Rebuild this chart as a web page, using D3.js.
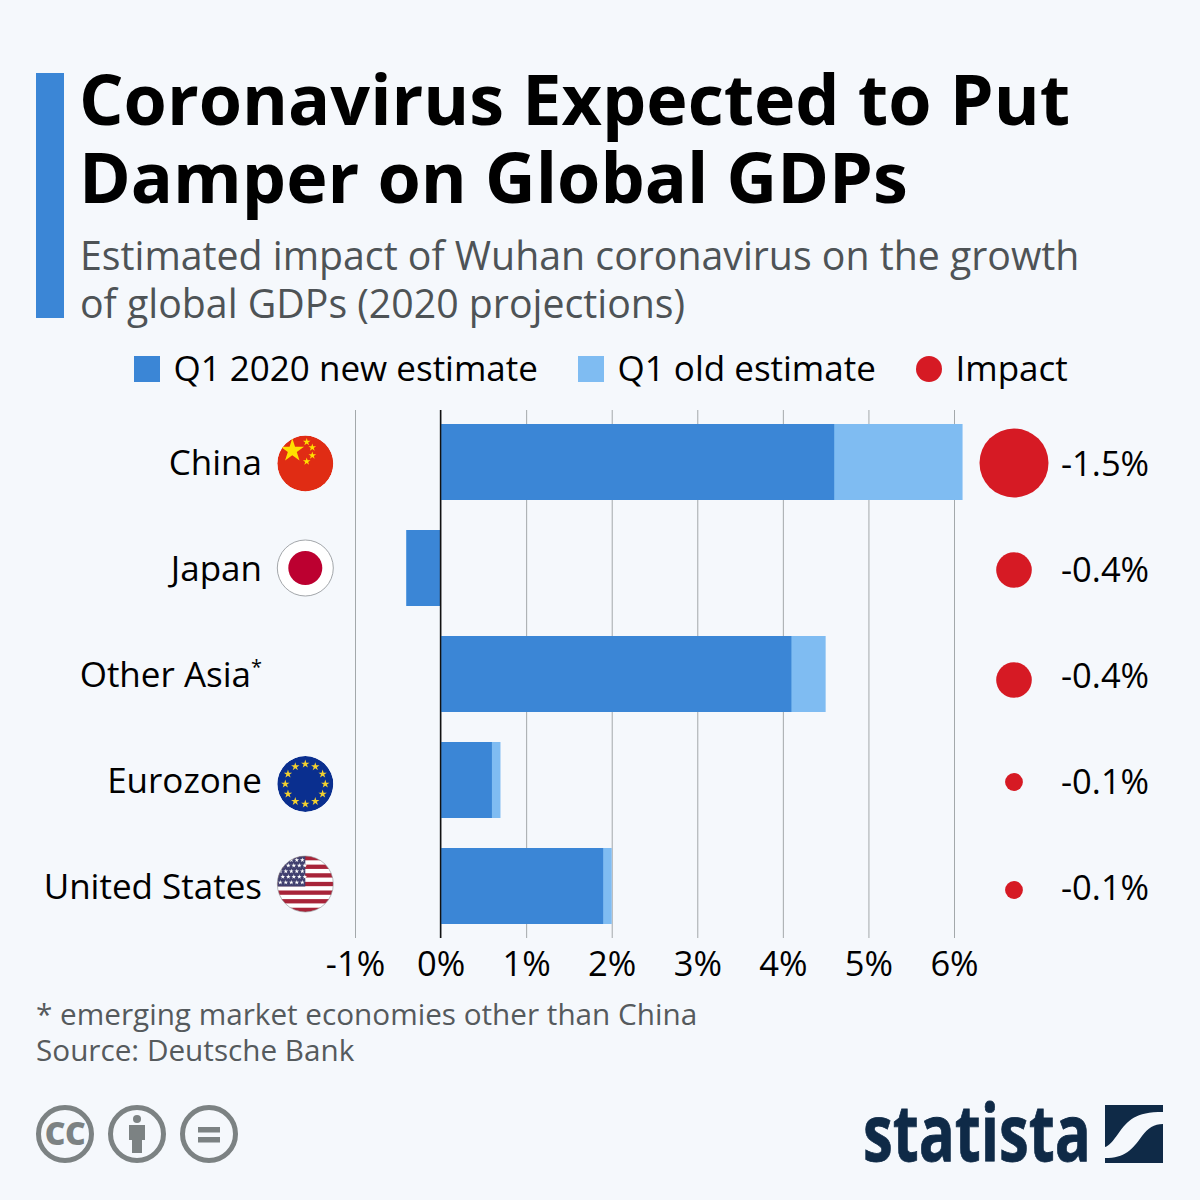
<!DOCTYPE html>
<html>
<head>
<meta charset="utf-8">
<script src="https://cdn.jsdelivr.net/npm/d3@7"></script>
<style>
html, body { margin: 0; padding: 0; background: #f5f8fc; }
svg { display: block; }
text { font-family: "Open Sans", sans-serif; }
</style>
</head>
<body>
<div class="chart"></div>
<script>
// chart values
var categories = ["China", "Japan", "Other Asia", "Eurozone", "United States"];
var newEstimate = [4.6, -0.4, 4.1, 0.6, 1.9];
var oldEstimate = [6.1, -0.4, 4.5, 0.7, 2.0];
var impact = [-1.5, -0.4, -0.4, -0.1, -0.1];
var flags = ["china", "japan", null, "eu", "us"];
var flagShift = [1.5, 0, 0, 4, -2];
var bubbleShift = [1, 2, 6, 2, 4];
var xTicks = [-1, 0, 1, 2, 3, 4, 5, 6];
var titleLines = ["Coronavirus Expected to Put", "Damper on Global GDPs"];
var subtitleLines = ["Estimated impact of Wuhan coronavirus on the growth", "of global GDPs (2020 projections)"];
var footLines = ["* emerging market economies other than China", "Source: Deutsche Bank"];

var blue = "#3b86d6", lightBlue = "#7fbcf2", red = "#d61a24", ink = "#000";

var svg = d3.select(".chart").append("svg")
    .attr("width", 1200)
    .attr("height", 1200);

svg.append("rect").attr("width", 1200).attr("height", 1200).attr("fill", "#f5f8fc");

//header
svg.append("rect").attr("x", 36).attr("y", 73).attr("width", 28).attr("height", 245).attr("fill", blue);

svg.selectAll(".title").data(titleLines).enter().append("text")
    .attr("class", "title")
    .attr("x", 79)
    .attr("y", function (d, i) { return 125 + i * 78; })
    .attr("font-size", 70)
    .attr("font-weight", 700)
    .attr("fill", ink)
    .text(function (d) { return d; });

svg.selectAll(".subtitle").data(subtitleLines).enter().append("text")
    .attr("class", "subtitle")
    .attr("x", 80)
    .attr("y", function (d, i) { return 270 + i * 48; })
    .attr("font-size", 39.25)
    .attr("fill", "#4e5356")
    .text(function (d) { return d; });

//legend
var legendItems = [
    {label: "Q1 2020 new estimate", color: blue, x: 134, kind: "rect"},
    {label: "Q1 old estimate", color: lightBlue, x: 578, kind: "rect"},
    {label: "Impact", color: red, x: 916, kind: "circle"}
];
legendItems.forEach(function (d) {
    if (d.kind === "rect") {
        svg.append("rect").attr("x", d.x).attr("y", 356).attr("width", 26).attr("height", 26).attr("fill", d.color);
    } else {
        svg.append("circle").attr("cx", d.x + 13).attr("cy", 369).attr("r", 13).attr("fill", d.color);
    }
    svg.append("text").attr("x", d.x + 39.5).attr("y", 381).attr("font-size", 35).attr("fill", ink).text(d.label);
});

//scales
var xScale = d3.scaleLinear().domain([-1, 6]).range([355, 954]);
var yScale = d3.scaleBand().domain(categories).range([410, 938]).paddingInner(30 / 106).paddingOuter(14 / 106);
var rScale = d3.scaleSqrt().domain([0, 1.5]).range([0, 34.5]);

function rowMid(d) {
    return yScale(d) + yScale.bandwidth() / 2;
}

//gridlines and axis
var xAxis = d3.axisBottom(xScale)
    .tickValues(xTicks)
    .tickSize(528)
    .tickPadding(12)
    .tickFormat(function (d) { return d + "%"; });

var axis = svg.append("g")
    .attr("transform", "translate(0,410)")
    .call(xAxis);
axis.select(".domain").remove();
axis.selectAll("line").attr("stroke", "#a3a8ab").attr("stroke-width", 1);
axis.selectAll("text")
    .attr("font-family", "'Open Sans', sans-serif")
    .attr("font-size", 34.5)
    .attr("fill", ink)
    .attr("y", 542);

//bars: old estimate behind, new estimate on top
svg.selectAll(".old").data(categories).enter().append("rect")
    .attr("class", "old")
    .attr("x", function (d, i) { return xScale(Math.min(0, oldEstimate[i])); })
    .attr("y", function (d) { return yScale(d); })
    .attr("width", function (d, i) { return Math.abs(xScale(oldEstimate[i]) - xScale(0)); })
    .attr("height", yScale.bandwidth())
    .attr("fill", lightBlue);

svg.selectAll(".new").data(categories).enter().append("rect")
    .attr("class", "new")
    .attr("x", function (d, i) { return xScale(Math.min(0, newEstimate[i])); })
    .attr("y", function (d) { return yScale(d); })
    .attr("width", function (d, i) { return Math.abs(xScale(newEstimate[i]) - xScale(0)); })
    .attr("height", yScale.bandwidth())
    .attr("fill", blue);

//zero line
svg.append("line")
    .attr("x1", xScale(0)).attr("x2", xScale(0))
    .attr("y1", 410).attr("y2", 938)
    .attr("stroke", "#111").attr("stroke-width", 1.5);

//category labels
var catLabels = svg.selectAll(".cat").data(categories).enter().append("text")
    .attr("class", "cat")
    .attr("x", 262)
    .attr("y", function (d) { return rowMid(d) + 13; })
    .attr("text-anchor", "end")
    .attr("font-size", 35)
    .attr("fill", ink)
    .text(function (d) { return d; });
catLabels.filter(function (d) { return d === "Other Asia"; })
    .append("tspan")
    .attr("font-size", 20)
    .attr("dy", -13)
    .text("*");

//impact bubbles and values
svg.selectAll(".bubble").data(categories).enter().append("circle")
    .attr("class", "bubble")
    .attr("cx", 1014)
    .attr("cy", function (d, i) { return rowMid(d) + bubbleShift[i]; })
    .attr("r", function (d, i) { return rScale(Math.abs(impact[i])); })
    .attr("fill", red);

svg.selectAll(".impact").data(categories).enter().append("text")
    .attr("class", "impact")
    .attr("x", 1061)
    .attr("y", function (d) { return rowMid(d) + 14; })
    .attr("font-size", 34.5)
    .attr("fill", ink)
    .text(function (d, i) { return impact[i].toFixed(1) + "%"; });

//flags
var defs = svg.append("defs");
var star = d3.symbol().type(d3.symbolStar);

function drawFlag(kind, i, cat) {
    if (!kind) return;
    var clipId = "flag-" + i;
    defs.append("clipPath").attr("id", clipId).append("circle").attr("r", 28);
    var g = svg.append("g")
        .attr("transform", "translate(305.3," + (rowMid(cat) + flagShift[i]) + ")");
    var inner = g.append("g").attr("clip-path", "url(#" + clipId + ")");

    if (kind === "china") {
        inner.append("circle").attr("r", 28).attr("fill", "#e02c14");
        inner.append("path").attr("d", star.size(170)()).attr("transform", "translate(-13,-13)").attr("fill", "#ffdf00");
        [[1.4, -21.5], [7, -16], [7, -8], [1.4, -2]].forEach(function (p) {
            inner.append("path").attr("d", star.size(18)()).attr("transform", "translate(" + p[0] + "," + p[1] + ")").attr("fill", "#ffdf00");
        });
    }
    if (kind === "japan") {
        inner.append("circle").attr("r", 28).attr("fill", "#fff");
        inner.append("circle").attr("r", 17).attr("fill", "#bc0030");
        g.append("circle").attr("r", 28).attr("fill", "none").attr("stroke", "#8d9194").attr("stroke-width", 0.8);
    }
    if (kind === "eu") {
        inner.append("circle").attr("r", 28).attr("fill", "#0a2f8f");
        d3.range(12).forEach(function (k) {
            var a = k * Math.PI / 6;
            inner.append("path").attr("d", star.size(22)())
                .attr("transform", "translate(" + (20 * Math.sin(a)) + "," + (-20 * Math.cos(a)) + ")")
                .attr("fill", "#f3d02f");
        });
    }
    if (kind === "us") {
        inner.append("circle").attr("r", 28).attr("fill", "#fff");
        d3.range(7).forEach(function (k) {
            inner.append("rect").attr("x", -28).attr("y", -28 + k * 8.62).attr("width", 56).attr("height", 4.31).attr("fill", "#a82439");
        });
        inner.append("rect").attr("x", -28).attr("y", -28).attr("width", 28).attr("height", 30.5).attr("fill", "#41406f");
        d3.range(5).forEach(function (r) {
            d3.range(5).forEach(function (c) {
                inner.append("path").attr("d", star.size(7)())
                    .attr("transform", "translate(" + (-25 + c * 5.5 + (r % 2) * 2.5) + "," + (-24 + r * 5.6) + ")")
                    .attr("fill", "#fff");
            });
        });
        g.append("circle").attr("r", 28).attr("fill", "none").attr("stroke", "#8d9194").attr("stroke-width", 0.6);
    }
}
flags.forEach(function (f, i) { drawFlag(f, i, categories[i]); });

//footnote
svg.selectAll(".foot").data(footLines).enter().append("text")
    .attr("class", "foot")
    .attr("x", 36)
    .attr("y", function (d, i) { return 1025 + i * 36; })
    .attr("font-size", 29.7)
    .attr("fill", "#555a5d")
    .text(function (d) { return d; });

//creative commons badges
var grey = "#7c8283";
[65, 137, 209].forEach(function (cx, i) {
    var g = svg.append("g").attr("transform", "translate(" + cx + ",1134)");
    g.append("circle").attr("r", 26.5).attr("fill", "none").attr("stroke", grey).attr("stroke-width", 5);
    if (i === 0) {
        g.append("text").attr("text-anchor", "middle").attr("y", 11).attr("font-size", 32).attr("font-weight", 800)
            .attr("letter-spacing", -0.5).attr("fill", grey).text("CC");
    }
    if (i === 1) {
        g.append("circle").attr("cy", -15).attr("r", 4).attr("fill", grey);
        g.append("rect").attr("x", -8).attr("y", -9).attr("width", 16).attr("height", 15).attr("fill", grey);
        g.append("rect").attr("x", -5).attr("y", -9).attr("width", 10).attr("height", 28).attr("fill", grey);
    }
    if (i === 2) {
        g.append("rect").attr("x", -11).attr("y", -7).attr("width", 22).attr("height", 5.5).attr("fill", grey);
        g.append("rect").attr("x", -11).attr("y", 3).attr("width", 22).attr("height", 5.5).attr("fill", grey);
    }
});

//statista logo
var navy = "#0f2a47";
svg.append("text")
    .attr("x", 863)
    .attr("y", 1161)
    .attr("font-size", 78)
    .attr("font-weight", 700)
    .attr("fill", navy)
    .attr("stroke", navy)
    .attr("stroke-width", 0.8)
    .attr("textLength", 228)
    .attr("lengthAdjust", "spacingAndGlyphs")
    .style("font-family", "'Liberation Sans Narrow', 'Open Sans', sans-serif")
    .text("statista");

svg.append("path")
    .attr("fill", navy)
    .attr("d", "M1105 1105 H1163 V1112 C1135 1112 1128 1120 1118 1134 C1113 1141 1109 1146 1105 1147 Z");
svg.append("path")
    .attr("fill", navy)
    .attr("d", "M1163 1124 V1163 H1105 V1158 C1125 1158 1132 1150 1142 1136 C1148 1128 1154 1124 1163 1124 Z");
</script>
</body>
</html>
